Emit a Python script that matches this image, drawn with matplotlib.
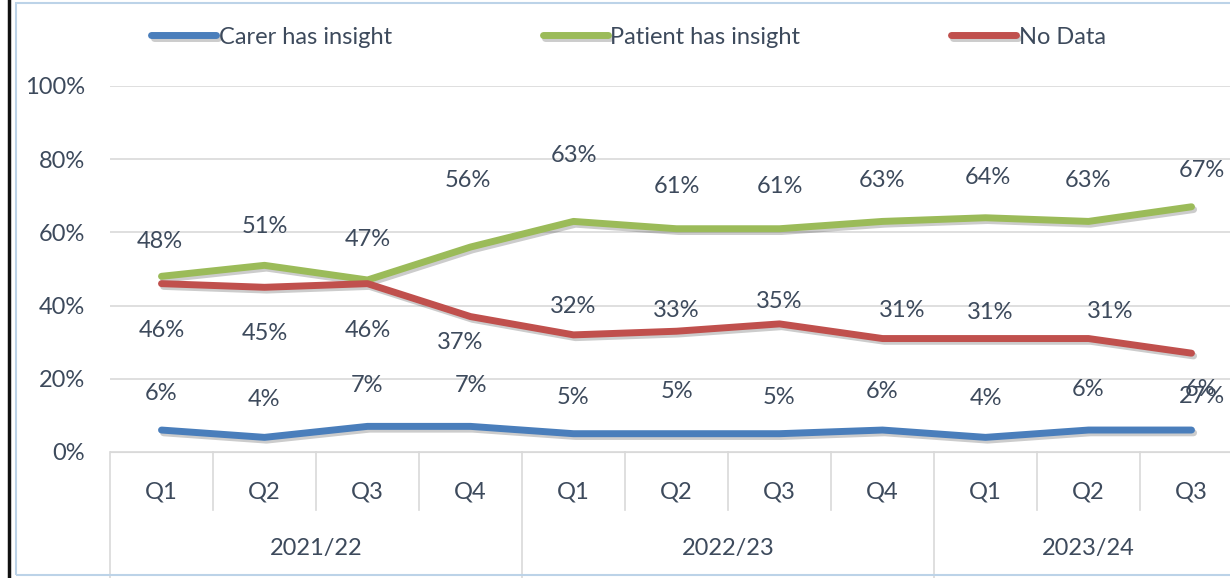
import numpy as np
import matplotlib.pyplot as plt
import matplotlib.patheffects as pe
from matplotlib.transforms import blended_transform_factory
from matplotlib.lines import Line2D
from matplotlib.patches import Rectangle

quarters = ["Q1", "Q2", "Q3", "Q4", "Q1", "Q2", "Q3", "Q4", "Q1", "Q2", "Q3"]
years = ["2021/22", "2022/23", "2023/24"]
year_sizes = [4, 4, 3]

carer = [6, 4, 7, 7, 5, 5, 5, 6, 4, 6, 6]
patient = [48, 51, 47, 56, 63, 61, 61, 63, 64, 63, 67]
no_data = [46, 45, 46, 37, 32, 33, 35, 31, 31, 31, 27]

plt.rcParams['font.family'] = ['Lato', 'DejaVu Sans']
txt = '#3d4a5c'
grid_c = '#d9d9d9'
c_blue, c_green, c_red = '#4a7ebb', '#9bbb59', '#c0504d'
fs = 17

W, H = 1230, 578
fig = plt.figure(figsize=(W / 100, H / 100), dpi=100)
# figure frame
fig.add_artist(Rectangle((16 / W, 3 / H), 1.2, (H - 6) / H, transform=fig.transFigure,
                         fill=False, ec='#bcd3e8', lw=1.5))
fig.add_artist(Line2D([9 / W, 9 / W], [0, 1], transform=fig.transFigure, color='#111111', lw=2.5))

x0, x1 = 110, 1243
ytop, ybot = 86, 452
ax = fig.add_axes([x0 / W, (H - ybot) / H, (x1 - x0) / W, (ybot - ytop) / H])
n = len(quarters)
x = np.arange(n)
ax.set_xlim(-0.5, n - 0.5)
ax.set_ylim(0, 100)
ax.set_yticks([0, 20, 40, 60, 80, 100])
ax.set_yticklabels([f"{v}%" for v in [0, 20, 40, 60, 80, 100]])
ax.tick_params(axis='y', length=0, pad=18, labelsize=fs, labelcolor=txt)
ax.set_xticks([])
for s in ['top', 'right', 'left']:
    ax.spines[s].set_visible(False)
ax.spines['bottom'].set_color(grid_c)
ax.grid(axis='y', color=grid_c, lw=1.2)
ax.set_axisbelow(True)

shadow = [pe.SimpleLineShadow(offset=(1.5, -2), alpha=0.2), pe.Normal()]
series = [("Carer has insight", carer, c_blue),
          ("Patient has insight", patient, c_green),
          ("No Data", no_data, c_red)]
for name, vals, col in series:
    ax.plot(x, vals, color=col, lw=5, solid_capstyle='round', solid_joinstyle='round',
            path_effects=shadow, label=name, clip_on=False)

# data label offsets in pixels (dx, dy), negative dy = above
carer_off = [(0, -37), (0, -38), (0, -41), (0, -41), (0, -36), (0, -42), (0, -36), (0, -39), (0, -39), (0, -41), (10, -41)]
patient_off = [(-2, -35), (0, -39), (0, -40), (-3, -67), (0, -66), (0, -42), (0, -42), (0, -41), (2, -40), (0, -41), (10, -36)]
nodata_off = [(0, 47), (0, 46), (0, 47), (-10, 26), (0, -28), (0, -21), (0, -22), (20, -28), (5, -26), (22, -27), (10, 43)]

for vals, offs in [(carer, carer_off), (patient, patient_off), (no_data, nodata_off)]:
    for i, v in enumerate(vals):
        dx, dy = offs[i]
        ax.annotate(f"{v}%", (i, v), xytext=(dx * 0.72, -dy * 0.72), textcoords='offset points',
                    ha='center', va='center', fontsize=fs, color=txt, annotation_clip=False)

# category axis
tr = blended_transform_factory(ax.transData, ax.transAxes)
short = -58 / (ybot - ytop)
long_ = -126 / (ybot - ytop)
bounds = np.cumsum([0] + year_sizes)
for k in range(n + 1):
    yend = long_ if k in bounds else short
    ax.add_line(Line2D([k - 0.5, k - 0.5], [0, yend], transform=tr, color=grid_c, lw=1.2, clip_on=False))
for i, q in enumerate(quarters):
    ax.text(i, -40 / (ybot - ytop), q, transform=tr, ha='center', va='center', fontsize=fs, color=txt)
for j, yr in enumerate(years):
    mid = (bounds[j] + bounds[j + 1]) / 2 - 0.5
    ax.text(mid, -96 / (ybot - ytop), yr, transform=tr, ha='center', va='center', fontsize=fs, color=txt)

leg = fig.legend(loc='center', bbox_to_anchor=(0.511, (H - 37) / H), ncol=3, frameon=False,
                 fontsize=fs, labelcolor=txt, handlelength=2.75, handletextpad=0.1, columnspacing=6.4)

fig.savefig("out.png", dpi=100)
